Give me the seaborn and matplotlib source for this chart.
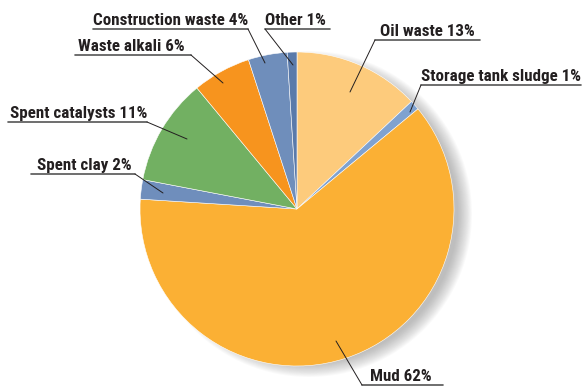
import matplotlib
matplotlib.use("Agg")
import matplotlib.pyplot as plt
from matplotlib.patches import Circle
from matplotlib import font_manager as fm
import seaborn as sns
import numpy as np

# ---- data ----
categories = ["Oil waste", "Storage tank sludge", "Mud", "Spent clay",
              "Spent catalysts", "Waste alkali", "Construction waste", "Other"]
values = [13, 1, 62, 2, 11, 6, 4, 1]
colors = ["#FDCB7C", "#7FA2D0", "#FBB034", "#6F8EBC",
          "#72B062", "#F7941E", "#6F8EBB", "#5A7AAA"]
labels = [f"{c} {v}%" for c, v in zip(categories, values)]

# ---- layout (image pixel coords) ----
W, H = 583, 387
CX, CY, R = 297, 209, 157
label_layout = {
    "Oil waste":           dict(tx=380, uy=40,  ux0=375, ux1=480, side="left",  px=350, py=92),
    "Storage tank sludge": dict(tx=421, uy=85,  ux0=421, ux1=581, side="left",  px=410, py=112),
    "Mud":                 dict(tx=370, uy=385, ux0=362, ux1=443, side="left",  px=336, py=341),
    "Spent clay":          dict(tx=37,  uy=174, ux0=31,  ux1=135, side="right", px=163, py=193),
    "Spent catalysts":     dict(tx=10,  uy=122, ux0=8,   ux1=147, side="right", px=187, py=139),
    "Waste alkali":        dict(tx=78,  uy=55,  ux0=75,  ux1=191, side="right", px=223, py=83),
    "Construction waste":  dict(tx=93,  uy=29,  ux0=93,  ux1=248, side="right", px=265, py=63),
    "Other":               dict(tx=265, uy=29,  ux0=265, ux1=330, side="left",  px=293, py=65),
}

sns.set_theme(style="white")

# pick a condensed family if one exists
names = {f.name for f in fm.fontManager.ttflist}
cond = [n for n in sorted(names) if ("Condensed" in n or "Narrow" in n)]
pref = ["Roboto Condensed", "DejaVu Sans Condensed", "Liberation Sans Narrow", "Open Sans Condensed"]
family = None
for p in pref:
    if p in names:
        family = p
        break
if family is None and cond:
    family = cond[0]
if family is None:
    family = "Liberation Sans"
plt.rcParams['font.family'] = [family, 'DejaVu Sans']

fig = plt.figure(figsize=(W / 100, H / 100), dpi=100)
ax = fig.add_axes([0, 0, 1, 1])
ax.set_xlim(0, W)
ax.set_ylim(0, H)
ax.set_aspect("equal")
ax.axis("off")

def fy(y):
    return H - y

# shadow (gradient crescent to the right)
for r in np.linspace(R + 6, R - 8, 16):
    ax.add_patch(Circle((CX + 12, fy(CY + 5)), r, color="#808080", alpha=0.04, lw=0, zorder=0))

wedges, _ = ax.pie(values, colors=colors, startangle=90, counterclock=False,
                   center=(CX, fy(CY)), radius=R,
                   wedgeprops=dict(edgecolor="white", linewidth=0.4))
for w in wedges:
    w.set_zorder(2)
ax.set_xlim(0, W)
ax.set_ylim(0, H)

# size the font so "Construction waste 4%" spans ~154 px like the reference
probe = ax.text(0, 0, labels[6], fontsize=13, fontweight="bold")
fig.canvas.draw()
wpx = probe.get_window_extent().width
probe.remove()
fs = 13 * 154 / wpx

for cat, lab in zip(categories, labels):
    L = label_layout[cat]
    ax.text(L["tx"], fy(L["uy"] - 4), lab, fontsize=fs, fontweight="bold",
            color="#231F20", ha="left", va="baseline", zorder=5)
    ax.plot([L["ux0"], L["ux1"]], [fy(L["uy"]), fy(L["uy"])], color="#555555", lw=1.2, zorder=4)
    sx = L["ux0"] if L["side"] == "left" else L["ux1"]
    ax.plot([sx, L["px"]], [fy(L["uy"]), fy(L["py"])], color="#231F20", lw=0.7, zorder=4)

fig.savefig("out.png", dpi=100)
